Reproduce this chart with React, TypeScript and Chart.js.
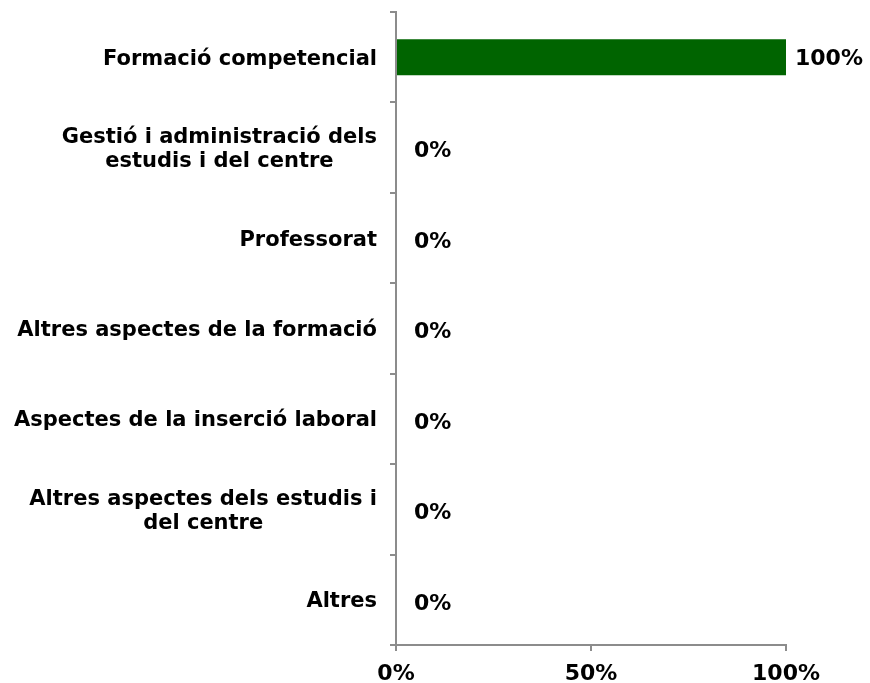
import React, { useEffect, useRef } from "react";
import { Chart, registerables } from "chart.js";

Chart.register(...registerables);

const categories: string[][] = [
  ["Formació competencial"],
  ["Gestió i administració dels", "estudis i del centre"],
  ["Professorat"],
  ["Altres aspectes de la formació"],
  ["Aspectes de la inserció laboral"],
  ["Altres aspectes dels estudis i", "del centre"],
  ["Altres"],
];
const values: number[] = [100, 0, 0, 0, 0, 0, 0];
const xTicks: number[] = [0, 50, 100];

const FONT_FAMILY = "'DejaVu Sans', Verdana, sans-serif";
const LABEL_SIZE = 21;
const NUM_SIZE = 22;
const LINE_H = 24;
const AXIS_COLOR = "#8c8c8c";

const yLabelPlugin = {
  id: "yLabels",
  afterDraw(chart: any) {
    const { ctx, scales } = chart;
    const y = scales.y;
    ctx.save();
    ctx.font = `bold ${LABEL_SIZE}px ${FONT_FAMILY}`;
    ctx.fillStyle = "#000";
    ctx.textAlign = "center";
    ctx.textBaseline = "middle";
    const rightEdge = y.right - 6 - 13;
    categories.forEach((lines, i) => {
      const cy = y.getPixelForValue(i) + 2;
      const maxW = Math.max(...lines.map((l) => ctx.measureText(l).width));
      const cx = rightEdge - maxW / 2;
      const startY = cy - ((lines.length - 1) * LINE_H) / 2;
      lines.forEach((l, j) => ctx.fillText(l, cx, startY + j * LINE_H));
    });
    ctx.restore();
  },
};

const valueLabelPlugin = {
  id: "valueLabels",
  afterDatasetsDraw(chart: any) {
    const { ctx } = chart;
    const meta = chart.getDatasetMeta(0);
    ctx.save();
    ctx.font = `bold ${NUM_SIZE}px ${FONT_FAMILY}`;
    ctx.fillStyle = "#000";
    ctx.textAlign = "left";
    ctx.textBaseline = "middle";
    meta.data.forEach((bar: any, i: number) => {
      const v = values[i];
      const pad = v === 0 ? 18 : 9;
      ctx.fillText(`${v}%`, bar.x + pad, bar.y + (v === 0 ? 4 : 2));
    });
    ctx.restore();
  },
};

export default function App() {
  const ref = useRef<HTMLCanvasElement>(null);
  useEffect(() => {
    if (!ref.current) return;
    const chart = new Chart(ref.current, {
      type: "bar",
      data: {
        labels: categories.map((c) => c.join(" ")),
        datasets: [
          {
            data: values,
            backgroundColor: "#006400",
            borderWidth: 0,
            barPercentage: 0.4,
            categoryPercentage: 1,
          },
        ],
      },
      options: {
        indexAxis: "y",
        animation: false,
        responsive: false,
        devicePixelRatio: 1,
        layout: { padding: { top: 12, right: 84, left: 0, bottom: 0 } },
        plugins: {
          legend: { display: false },
          tooltip: { enabled: false },
        },
        scales: {
          x: {
            min: 0,
            max: 100,
            afterBuildTicks(axis: any) {
              axis.ticks = xTicks.map((v) => ({ value: v }));
            },
            afterFit(axis: any) {
              axis.height = 38;
            },
            ticks: {
              callback: (v: any) => `${v}%`,
              font: { family: FONT_FAMILY, size: NUM_SIZE, weight: "bold" },
              color: "#000",
              padding: 10,
              maxRotation: 0,
            },
            grid: {
              drawOnChartArea: false,
              drawTicks: true,
              tickLength: 6,
              color: AXIS_COLOR,
              lineWidth: 2,
            },
            border: { color: AXIS_COLOR, width: 2 },
          },
          y: {
            afterFit(axis: any) {
              axis.width = 396;
            },
            ticks: { display: false },
            grid: {
              offset: true,
              drawOnChartArea: false,
              drawTicks: true,
              tickLength: 6,
              color: AXIS_COLOR,
              lineWidth: 2,
            },
            border: { color: AXIS_COLOR, width: 2 },
          },
        },
      },
      plugins: [yLabelPlugin, valueLabelPlugin],
    });
    return () => chart.destroy();
  }, []);
  return (
    <div style={{ position: "absolute", left: 0, top: 0, width: 870, height: 683, background: "#fff" }}>
      <canvas ref={ref} width={870} height={683} style={{ width: 870, height: 683 }} />
    </div>
  );
}
